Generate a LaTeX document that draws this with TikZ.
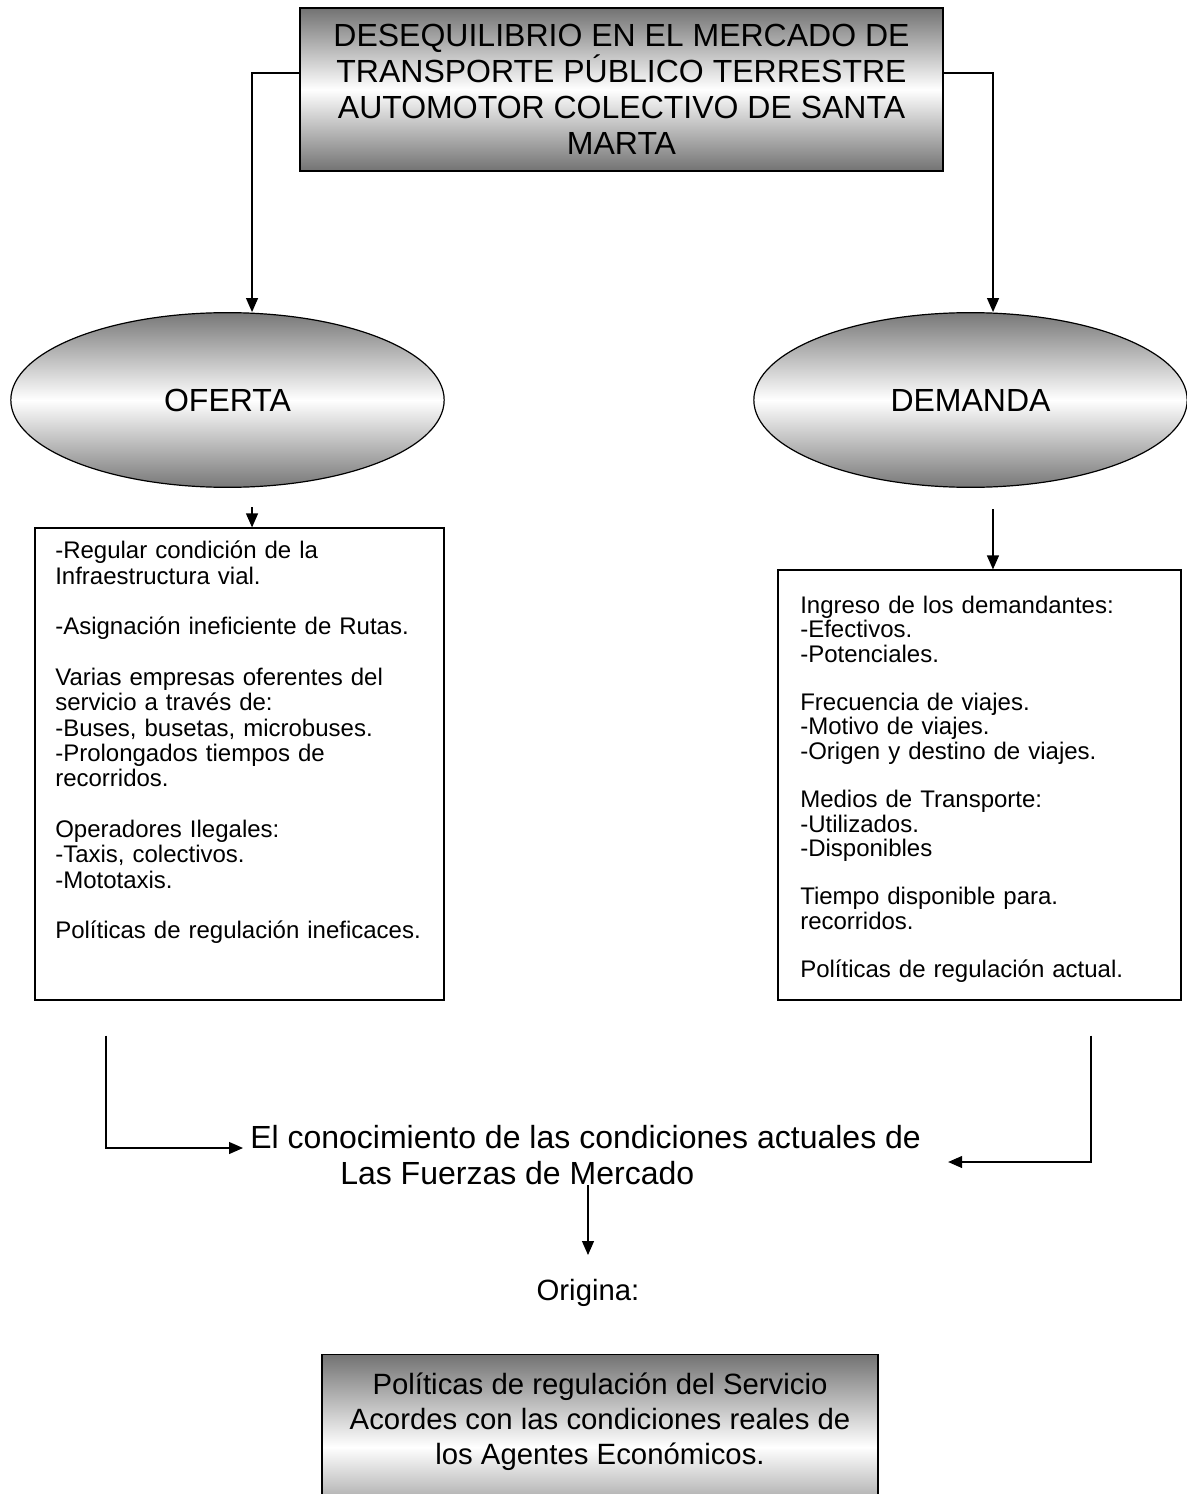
\documentclass[tikz,border=0pt]{standalone}
\usepackage{fontspec}
\setmainfont{Liberation Sans}
\usetikzlibrary{shapes.geometric,arrows.meta}
\definecolor{gs}{rgb}{.45,.45,.45}
\definecolor{ge}{rgb}{.47,.47,.47}

\begin{document}
\begin{tikzpicture}
  [x=.75pt, y=-.75pt,
   flecha/.style={-{Triangle[length=10.5pt,width=9pt]}, line width=.9pt},
   sombra/.style={draw=black, line width=1.1pt, top color=gs, bottom color=gs, middle color=white},
   caja/.style={rectangle, draw=black, line width=.9pt},
   lista/.style={anchor=north west, inner sep=0pt, text width=289pt, align=left,
     font=\fontsize{18}{19}\selectfont}]
  \path[use as bounding box] (0,0) rectangle (1187,1494);
  \clip (0,0) rectangle (1187,1494);
  % cabecera
  \node[sombra, minimum width=482pt, minimum height=122pt, align=center,
    font=\fontsize{24}{27}\selectfont] (des) at (621.5,89.5)
    {DESEQUILIBRIO EN EL MERCADO DE\\TRANSPORTE PÚBLICO TERRESTRE\\
     AUTOMOTOR COLECTIVO DE SANTA\\MARTA};
  % oferta y demanda
  \foreach \nom/\x/\txt in {ofe/227.5/OFERTA,dem/970.5/DEMANDA}{
    \node[ellipse, draw=black, line width=.9pt, top color=ge, bottom color=ge,
      middle color=white, minimum width=325pt, minimum height=131pt,
      inner sep=0pt, font=\fontsize{24}{27}\selectfont] (\nom) at (\x,400) {\txt}; }
  % cajas de texto
  \node[caja, minimum width=306.75pt, minimum height=354pt] (lbox) at (239.5,764) {};
  \node[caja, minimum width=302.25pt, minimum height=322.5pt] (rbox) at (979.5,785) {};
  \node[lista] (ltxt) at (55,541)
    {-Regular condición de la\\Infraestructura vial.\\[\baselineskip]
     -Asignación ineficiente de Rutas.\\[\baselineskip]
     Varias empresas oferentes del\\servicio a través de:\\
     -Buses, busetas, microbuses.\\-Prolongados tiempos de\\recorridos.\\[\baselineskip]
     Operadores Ilegales:\\-Taxis, colectivos.\\-Mototaxis.\\[\baselineskip]
     Políticas de regulación ineficaces.};
  \node[lista, font=\fontsize{18}{18.2}\selectfont] (rtxt) at (800,596)
    {Ingreso de los demandantes:\\-Efectivos.\\-Potenciales.\\[\baselineskip]
     Frecuencia de viajes.\\-Motivo de viajes.\\-Origen y destino de viajes.\\[\baselineskip]
     Medios de Transporte:\\-Utilizados.\\-Disponibles\\[\baselineskip]
     Tiempo disponible para.\\recorridos.\\[\baselineskip]
     Políticas de regulación actual.};
  % conclusion
  \node[anchor=north west, inner sep=0pt, align=left,
    font=\fontsize{24}{27}\selectfont] (con) at (250,1125)
    {El conocimiento de las condiciones actuales de\\
     \hspace*{67.5pt}Las Fuerzas de Mercado};
  \node[anchor=north, inner sep=0pt, font=\fontsize{22}{26}\selectfont]
    (ori) at (588,1279) {Origina:};
  \node[sombra, minimum width=417pt, minimum height=139pt] (pol) at (600,1447) {};
  \node[align=center, font=\fontsize{22}{26.25}\selectfont] (poltxt) at (600,1422)
    {Políticas de regulación del Servicio\\Acordes con las condiciones reales de\\
     los Agentes Económicos.};
  % flechas
  \coordinate (baja) at (588,1185);
  \draw[flecha] ([yshift=12.4pt]des.west) -| ([xshift=18.4pt]ofe.north);
  \draw[flecha] ([yshift=12.4pt]des.east) -| ([xshift=16.9pt]dem.north);
  \draw[flecha] ([xshift=9.4pt,yshift=15pt]lbox.north) -- ([xshift=9.4pt]lbox.north);
  \draw[flecha] ([xshift=10.1pt,yshift=45pt]rbox.north) -- ([xshift=10.1pt]rbox.north);
  \draw[flecha] ([xshift=-100.1pt,yshift=-26.25pt]lbox.south)
    |- ([xshift=-5.25pt,yshift=-17.25pt]con.north west);
  \draw[flecha] ([xshift=83.6pt,yshift=-26.25pt]rbox.south)
    |- ([xshift=20.25pt,yshift=-27.75pt]con.north east);
  \draw[flecha] (baja) -- ([yshift=18pt]ori.north);
\end{tikzpicture}
\end{document}
